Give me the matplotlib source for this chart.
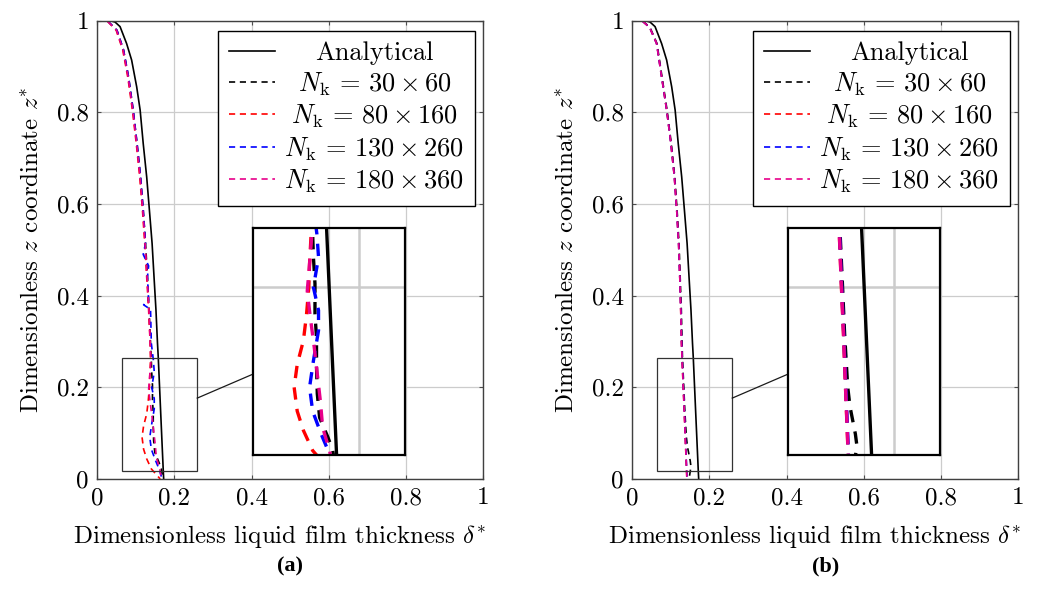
import matplotlib
matplotlib.use("Agg")
import matplotlib.pyplot as plt
from matplotlib.patches import Rectangle
from matplotlib.transforms import Affine2D, blended_transform_factory

plt.rcParams['font.family'] = 'serif'
plt.rcParams['font.serif'] = ['cmr10']
plt.rcParams['mathtext.fontset'] = 'cm'
plt.rcParams['axes.formatter.use_mathtext'] = True
plt.rcParams['axes.unicode_minus'] = False

# analytical solution (same in both panels)
z_ana = [1.0, 1.0, 0.997, 0.987, 0.95, 0.914, 0.856, 0.805, 0.732, 0.659, 0.587,
         0.514, 0.441, 0.369, 0.296, 0.265, 0.15, 0.017, 0.0]
x_ana = [0.0, 0.033, 0.046, 0.059, 0.076, 0.089, 0.102, 0.111, 0.119, 0.128, 0.135,
         0.142, 0.147, 0.152, 0.156, 0.158, 0.164, 0.171, 0.172]

# panel (a)
a_z_30 = [1.0, 1.0, 0.979, 0.936, 0.877, 0.805, 0.732, 0.659, 0.587, 0.514, 0.441, 0.369,
          0.296, 0.258, 0.233, 0.204, 0.171, 0.145, 0.113, 0.084, 0.058, 0.036, 0.022, 0.0]
a_x_30 = [0.0, 0.026, 0.051, 0.068, 0.081, 0.093, 0.103, 0.112, 0.119, 0.125, 0.130, 0.134,
          0.138, 0.140, 0.141, 0.143, 0.143, 0.145, 0.145, 0.146, 0.149, 0.160, 0.166, 0.170]

a_z_80 = [1.0, 1.0, 0.979, 0.936, 0.877, 0.805, 0.732, 0.659, 0.587, 0.514, 0.441, 0.369,
          0.296, 0.258, 0.226, 0.200, 0.170, 0.142, 0.116, 0.091, 0.065, 0.044, 0.022, 0.0]
a_x_80 = [0.0, 0.025, 0.049, 0.066, 0.079, 0.091, 0.101, 0.110, 0.117, 0.123, 0.128, 0.133,
          0.137, 0.138, 0.136, 0.135, 0.132, 0.128, 0.120, 0.116, 0.120, 0.128, 0.140, 0.163]

a_z_130 = [1.0, 1.0, 0.979, 0.936, 0.877, 0.805, 0.732, 0.659, 0.587, 0.514, 0.49, 0.465,
           0.441, 0.39, 0.38, 0.37, 0.296, 0.258, 0.233, 0.200, 0.175, 0.153, 0.120, 0.091,
           0.065, 0.040, 0.022, 0.0]
a_x_130 = [0.0, 0.026, 0.051, 0.068, 0.081, 0.093, 0.103, 0.112, 0.119, 0.125, 0.119, 0.133,
           0.130, 0.133, 0.120, 0.138, 0.140, 0.1455, 0.1476, 0.141, 0.1476, 0.1476, 0.141,
           0.136, 0.140, 0.151, 0.160, 0.168]

a_z_180 = [1.0, 1.0, 0.979, 0.936, 0.877, 0.805, 0.732, 0.659, 0.587, 0.514, 0.441, 0.369,
           0.296, 0.258, 0.226, 0.196, 0.167, 0.135, 0.109, 0.076, 0.047, 0.022, 0.0]
a_x_180 = [0.0, 0.025, 0.050, 0.067, 0.080, 0.092, 0.102, 0.111, 0.118, 0.124, 0.129, 0.134,
           0.137, 0.139, 0.136, 0.133, 0.137, 0.142, 0.1455, 0.150, 0.153, 0.162, 0.166]

# panel (b)
b_z = [1.0, 1.0, 0.985, 0.95, 0.877, 0.805, 0.732, 0.659, 0.587, 0.514, 0.441, 0.369,
       0.296, 0.263, 0.208, 0.150, 0.092, 0.037, 0.0]
b_x_80 = [0.0, 0.025, 0.045, 0.063, 0.076, 0.089, 0.100, 0.109, 0.115, 0.120, 0.123, 0.1254,
          0.1274, 0.1289, 0.1315, 0.1345, 0.1371, 0.1397, 0.1414]
b_x_130 = [0.0, 0.025, 0.045, 0.063, 0.076, 0.089, 0.100, 0.109, 0.115, 0.120, 0.123, 0.1257,
           0.1278, 0.1293, 0.1319, 0.1349, 0.1376, 0.1402, 0.1418]
b_x_180 = [0.0, 0.025, 0.045, 0.063, 0.076, 0.089, 0.100, 0.109, 0.115, 0.120, 0.123, 0.1255,
           0.1275, 0.129, 0.1316, 0.1346, 0.1372, 0.1398, 0.1415]
b_z_30 = [1.0, 1.0, 0.985, 0.95, 0.877, 0.805, 0.732, 0.659, 0.587, 0.514, 0.441, 0.369,
          0.296, 0.263, 0.208, 0.150, 0.092, 0.070, 0.040, 0.027, 0.0]
b_x_30 = [0.0, 0.026, 0.046, 0.064, 0.077, 0.090, 0.101, 0.110, 0.116, 0.121, 0.124, 0.127,
          0.129, 0.130, 0.133, 0.136, 0.140, 0.143, 0.150, 0.152, 0.147]

labels = ['Analytical',
          r'$N_\mathrm{k} \,=\, 30 \times 60$',
          r'$N_\mathrm{k} \,=\, 80 \times 160$',
          r'$N_\mathrm{k} \,=\, 130 \times 260$',
          r'$N_\mathrm{k} \,=\, 180 \times 360$']
colors = ['black', 'black', '#ff0000', '#0000ff', '#e8008a']
ticks = [0, 0.2, 0.4, 0.6, 0.8, 1]
ticklabels = ['0', '0.2', '0.4', '0.6', '0.8', '1']

# spy box (region) and where the 2x magnified view sits
box_x, box_y, box_w, box_h = 0.063, 0.0175, 0.196, 0.247
mag = 2.0
spy_cx, spy_cy = 0.6, 0.3

FS = 18
LFS = 19
LW = 1.2
DASH = (0, (3.7, 2.8))
GRID = '#cccccc'


def plot_series(ax, series, lw):
    ax.plot(x_ana, z_ana, color='black', lw=lw, label=labels[0])
    for (x, z), c, lab in zip(series, colors[1:], labels[1:]):
        ax.plot(x, z, color=c, lw=lw, ls=DASH, label=lab)


def center_legend_texts(fig, leg):
    fig.canvas.draw()
    r = fig.canvas.get_renderer()
    texts = leg.get_texts()
    widths = [t.get_window_extent(r).width for t in texts]
    wmax = max(widths)
    for t, w in zip(texts, widths):
        t.set_transform(t.get_transform() + Affine2D().translate((wmax - w) / 2, 0))


def draw_panel(ax, series):
    plot_series(ax, series, LW)
    ax.set_xlim(0, 1)
    ax.set_ylim(0, 1)
    ax.set_xticks(ticks)
    ax.set_xticklabels(ticklabels)
    ax.set_yticks(ticks)
    ax.set_yticklabels(ticklabels)
    ax.grid(True, color=GRID, lw=0.9)
    ax.set_axisbelow(True)
    ax.tick_params(direction='in', length=3, width=0.8, top=True, right=True,
                   labelsize=FS, pad=6, color='0.3')
    for s in ax.spines.values():
        s.set_color('0.25')
        s.set_linewidth(1.0)
    ax.set_xlabel(r'Dimensionless liquid film thickness $\delta^{*}$', fontsize=FS)
    ax.xaxis.set_label_coords(0.5 - 10.5 / 386, -0.095)
    ax.set_ylabel(r'Dimensionless $z$ coordinate $z^{*}$', fontsize=FS, labelpad=10)

    leg = ax.legend(loc='upper right', bbox_to_anchor=(0.9785, 0.978), borderaxespad=0,
                    fontsize=LFS, frameon=True, fancybox=False, edgecolor='black',
                    framealpha=1, handlelength=1.75, handletextpad=0.35,
                    labelspacing=0.19, borderpad=0.4)
    leg.get_frame().set_linewidth(1.0)

    # spy box on the main axes
    ax.add_patch(Rectangle((box_x, box_y), box_w, box_h, fill=False, ec='0.2', lw=0.9, zorder=5))

    # magnified view
    in_w, in_h = box_w * mag, box_h * mag
    in_x, in_y = spy_cx - in_w / 2, spy_cy - in_h / 2
    axins = ax.inset_axes([in_x, in_y, in_w, in_h], transform=ax.transData)
    plot_series(axins, series, LW * mag)
    axins.set_xlim(box_x, box_x + box_w)
    axins.set_ylim(box_y, box_y + box_h)
    axins.set_xticks([0.2])
    axins.set_yticks([0.2])
    axins.grid(True, color=GRID, lw=0.9 * mag)
    axins.set_axisbelow(True)
    axins.tick_params(length=0, labelbottom=False, labelleft=False)
    # main grid line x=0.6 shows through the magnified view
    axins.plot([0.6, 0.6], [0, 1], color=GRID, lw=0.9, zorder=0.5,
               transform=blended_transform_factory(ax.transData, axins.transAxes))
    for s in axins.spines.values():
        s.set_color('black')
        s.set_linewidth(1.6)

    # connector: line between box centre and view centre, cut at both borders
    bcx, bcy = box_x + box_w / 2, box_y + box_h / 2
    dx, dy = spy_cx - bcx, spy_cy - bcy
    t0 = (box_w / 2) / dx
    t1 = 1 - (in_w / 2) / dx
    ax.plot([bcx + t0 * dx, bcx + t1 * dx], [bcy + t0 * dy, bcy + t1 * dy],
            color='0.1', lw=0.9, zorder=5)
    return leg


fig = plt.figure(figsize=(10.54, 6.06), dpi=100)
ax1 = fig.add_axes([0.0923, 0.2096, 0.3662, 0.7563])
ax2 = fig.add_axes([0.5999, 0.2096, 0.3662, 0.7563])

leg1 = draw_panel(ax1, [(a_x_30, a_z_30), (a_x_80, a_z_80), (a_x_130, a_z_130), (a_x_180, a_z_180)])
leg2 = draw_panel(ax2, [(b_x_30, b_z_30), (b_x_80, b_z), (b_x_130, b_z), (b_x_180, b_z)])

fig.text(0.2755, 0.066, '(a)', ha='center', va='center', fontsize=16,
         family='Liberation Serif', weight='bold')
fig.text(0.783, 0.066, '(b)', ha='center', va='center', fontsize=16,
         family='Liberation Serif', weight='bold')

center_legend_texts(fig, leg1)
center_legend_texts(fig, leg2)

fig.savefig('out.png', dpi=100)
